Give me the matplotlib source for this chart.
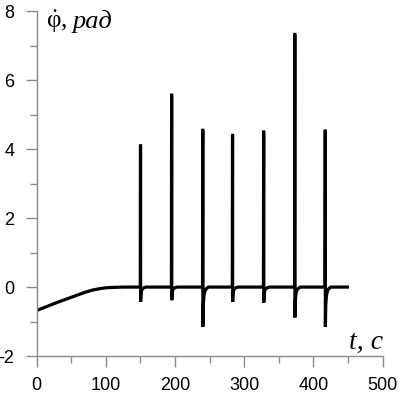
import numpy as np
import matplotlib
matplotlib.use('Agg')
import matplotlib.pyplot as plt

plt.rcParams['axes.unicode_minus'] = False
plt.rcParams['mathtext.fontset'] = 'custom'
plt.rcParams['mathtext.rm'] = 'Liberation Serif'
plt.rcParams['mathtext.it'] = 'Liberation Serif:italic'

# плавный участок в начале (t, значение)
base_t = [0, 10, 25, 40, 55, 70, 80, 90, 100, 110, 125, 140]
base_v = [-0.68, -0.6, -0.48, -0.37, -0.26, -0.15, -0.09, -0.05, -0.02, -0.01, 0.0, 0.0]

# импульсы: время, пик, провал
spike_t = [150, 195, 240, 283, 328, 373, 417]
spike_peak = [4.1, 5.57, 4.55, 4.4, 4.5, 7.33, 4.53]
spike_dip = [-0.42, -0.38, -1.15, -0.43, -0.45, -0.88, -1.15]

# форма восстановления после провала (смещение по t, доля от провала)
rec_dt = [0.0, 0.6, 1.5, 3.0, 5.0, 8.0]
rec_frac = [1.0, 0.45, 0.22, 0.1, 0.04, 0.0]

t_end = 449

t = list(base_t)
v = list(base_v)
for ts, pk, dp in zip(spike_t, spike_peak, spike_dip):
    t += [ts - 0.3, ts, ts + 0.1]
    v += [0.0, pk, pk]
    for dt, fr in zip(rec_dt, rec_frac):
        t.append(ts + 0.2 + dt)
        v.append(dp * fr)
t.append(t_end)
v.append(0.0)

fig = plt.figure(figsize=(3.99, 3.98), dpi=100)
ax = fig.add_axes([0.092, 0.1055, 0.867, 0.866])
ax.plot(t, v, color='black', lw=2.3, solid_joinstyle='miter')

ax.set_xlim(0, 500)
ax.set_ylim(-2, 8)
ax.set_xticks([0, 100, 200, 300, 400, 500])
ax.set_yticks([-2, 0, 2, 4, 6, 8])
ax.set_xticks(np.arange(50, 500, 100), minor=True)
ax.set_yticks(np.arange(-1, 8, 2), minor=True)

for s in ['top', 'right']:
    ax.spines[s].set_visible(False)
for s in ['left', 'bottom']:
    ax.spines[s].set_color('#8a8a8a')
    ax.spines[s].set_linewidth(1.0)

ax.tick_params(which='major', length=8, width=1, color='#8a8a8a',
               labelsize=13)
ax.tick_params(axis='y', which='major', pad=8)
ax.tick_params(axis='x', which='major', pad=7)
ax.tick_params(which='minor', length=5, width=1, color='#8a8a8a')
for lb in ax.get_xticklabels() + ax.get_yticklabels():
    lb.set_family('Liberation Sans')

# подпись оси y: фи с точкой сверху
ax.text(0.026, 0.952, r'$\dot{\mathrm{φ}}$' + ', ', transform=ax.transAxes,
        fontsize=18, family='Liberation Serif', va='baseline', ha='left')
ax.text(0.104, 0.952, 'рад', transform=ax.transAxes, fontsize=19,
        family='Liberation Serif', style='italic', va='baseline', ha='left')
ax.text(1.0, 0.02, 't, c', transform=ax.transAxes, fontsize=20,
        family='Liberation Serif', style='italic', va='baseline', ha='right')

fig.savefig('out.png', dpi=100)
